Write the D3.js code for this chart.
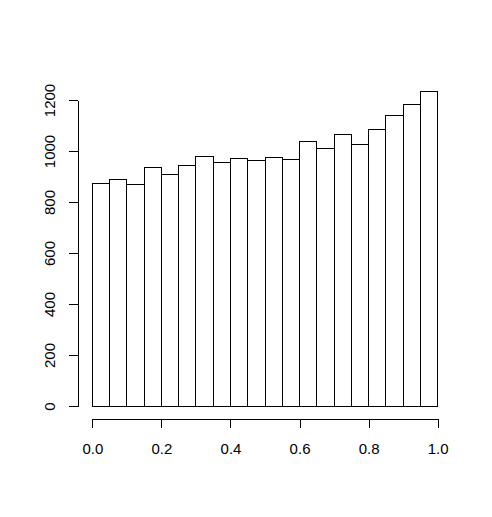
<!DOCTYPE html>
<html lang="en">
<head>
    <meta charset="UTF-8">
    <title>Histogram</title>
    <script src="https://d3js.org/d3.v7.min.js"></script>
    <style>
        body { margin: 0; background: #fff; }
        .bar rect {
            fill: #fff;
            stroke: #000;
            stroke-width: 1px;
        }
        .axis path, .axis line {
            stroke: #000;
            stroke-width: 1px;
        }
        .axis text {
            font: 15px "Liberation Sans", Arial, sans-serif;
            fill: #000;
        }
    </style>
</head>
<body>

<script>
    var width = 492, height = 517;

    // bin edges (width 0.05) and counts
    var binStarts = [0.00, 0.05, 0.10, 0.15, 0.20, 0.25, 0.30, 0.35, 0.40, 0.45,
                     0.50, 0.55, 0.60, 0.65, 0.70, 0.75, 0.80, 0.85, 0.90, 0.95];
    var counts = [872, 890, 869, 936, 908, 944, 979, 953, 971, 962,
                  974, 966, 1037, 1008, 1065, 1027, 1085, 1140, 1183, 1234];
    var binWidth = 0.05;

    var xTicks = [0, 0.2, 0.4, 0.6, 0.8, 1.0];
    var yTicks = [0, 200, 400, 600, 800, 1000, 1200];

    var svg = d3.select("body").append("svg")
        .attr("width", width)
        .attr("height", height);

    var x = d3.scaleLinear().domain([0, 1]).range([92.3, 437.7]);
    var y = d3.scaleLinear().domain([0, 1200]).range([406, 100]);

    var bars = svg.append("g")
        .attr("class", "bar")
        .selectAll("rect")
        .data(counts)
        .enter().append("rect")
        .attr("shape-rendering", "crispEdges")
        .attr("x", function(d, i) { return x(binStarts[i]); })
        .attr("width", function(d, i) { return x(binStarts[i] + binWidth) - x(binStarts[i]); })
        .attr("y", function(d) { return y(d); })
        .attr("height", function(d) { return y(0) - y(d); });

    // x axis, detached below the bars like base R
    var xAxis = svg.append("g")
        .attr("class", "axis")
        .attr("transform", "translate(0,419)")
        .call(d3.axisBottom(x)
            .tickValues(xTicks)
            .tickSize(9)
            .tickSizeOuter(0)
            .tickFormat(d3.format(".1f")));
    xAxis.selectAll("text")
        .attr("y", 35)
        .attr("dy", 0);

    // y axis with rotated labels
    var yAxis = svg.append("g")
        .attr("class", "axis")
        .attr("transform", "translate(78,0)")
        .call(d3.axisLeft(y)
            .tickValues(yTicks)
            .tickSize(9)
            .tickSizeOuter(0)
            .tickFormat(d3.format("d")));
    yAxis.selectAll("text")
        .attr("transform", "rotate(-90)")
        .attr("x", 0)
        .attr("y", -23)
        .attr("dy", 0)
        .attr("text-anchor", "middle");

    svg.selectAll(".axis path, .axis line").attr("shape-rendering", "crispEdges");
</script>
</body>
</html>
